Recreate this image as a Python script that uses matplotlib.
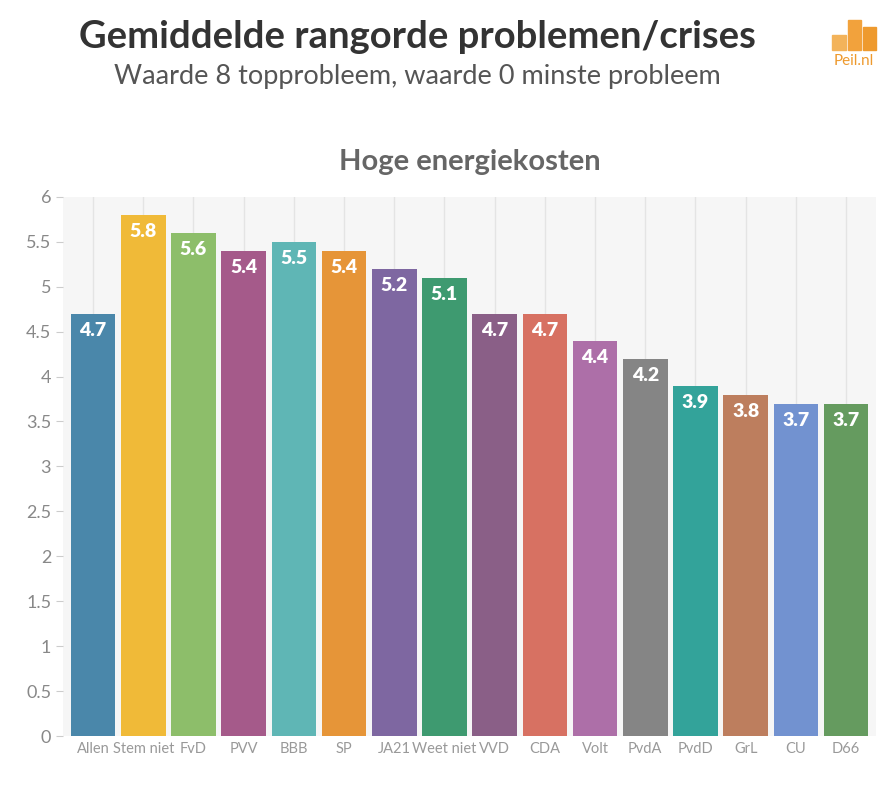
import matplotlib.pyplot as plt
from matplotlib.patches import Rectangle

plt.rcParams['font.family'] = ['Lato', 'DejaVu Sans']

parties = ["Allen", "Stem niet", "FvD", "PVV", "BBB", "SP", "JA21", "Weet niet",
           "VVD", "CDA", "Volt", "PvdA", "PvdD", "GrL", "CU", "D66"]
values = [4.7, 5.8, 5.6, 5.4, 5.5, 5.4, 5.2, 5.1, 4.7, 4.7, 4.4, 4.2, 3.9, 3.8, 3.7, 3.7]
colors = ["#4A87AA", "#F0BA38", "#8DBE6A", "#A55A8A", "#5FB6B5", "#E69538", "#7E67A1", "#3E9A70",
          "#8A5F87", "#D77162", "#AD6FA8", "#858585", "#33A39A", "#BD7E5E", "#7292D0", "#659B5F"]
yticks = [0, 0.5, 1, 1.5, 2, 2.5, 3, 3.5, 4, 4.5, 5, 5.5, 6]

fig = plt.figure(figsize=(8.82, 7.86), dpi=100)
ax = fig.add_axes([0.0714, 0.0636, 0.922, 0.686])
ax.set_facecolor("#f6f6f6")

x = list(range(len(parties)))
ax.bar(x, values, width=0.89, color=colors, zorder=2)
for xi, v in zip(x, values):
    ax.text(xi, v - 0.09, f"{v:.1f}", ha="center", va="top", color="white",
            fontsize=14, fontweight="heavy", zorder=3)

ax.set_xlim(-0.6, len(parties) - 0.4)
ax.set_ylim(0, 6)
ax.set_yticks(yticks)
ax.set_yticklabels([f"{t:g}" for t in yticks])
ax.set_xticks(x)
ax.set_xticklabels(parties)
ax.tick_params(axis="y", colors="#cccccc", labelcolor="#888888", labelsize=13, length=5, width=0.8)
ax.tick_params(axis="x", length=0, labelcolor="#999999", labelsize=10.5, pad=4)
ax.grid(axis="x", color="#e4e4e4", linewidth=1, zorder=0)
for s in ax.spines.values():
    s.set_visible(False)

fig.text(0.473, 0.953, "Gemiddelde rangorde problemen/crises", ha="center", va="center",
         fontsize=27.5, fontweight="bold", color="#333333")
fig.text(0.473, 0.903, "Waarde 8 topprobleem, waarde 0 minste probleem", ha="center", va="center",
         fontsize=19.5, color="#555555")
fig.text(0.533, 0.794, "Hoge energiekosten", ha="center", va="center",
         fontsize=21, fontweight="bold", color="#666666")

# logo
logo_bars = [(0.943, 0.019, 0.016, "#F3B35A"), (0.961, 0.038, 0.015, "#F2A23C"), (0.978, 0.029, 0.015, "#EE9A2E")]
for lx, lh, lw, lc in logo_bars:
    fig.add_artist(Rectangle((lx, 0.937), lw, lh, transform=fig.transFigure, color=lc))
fig.text(0.968, 0.922, "Peil.nl", ha="center", va="center", fontsize=11, color="#EE9A2E")

fig.savefig("out.png", dpi=100)
